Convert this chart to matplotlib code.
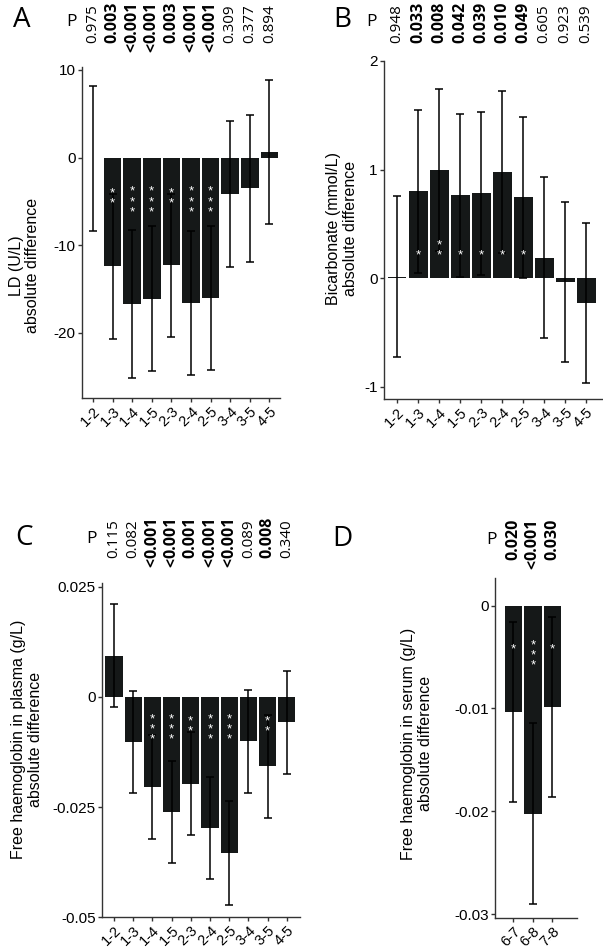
import matplotlib
matplotlib.use('Agg')
import matplotlib.pyplot as plt
from matplotlib.transforms import blended_transform_factory

plt.rcParams['font.family'] = ['Liberation Sans', 'DejaVu Sans']
plt.rcParams['axes.unicode_minus'] = False

# A: LD
ld_pairs = ['1-2', '1-3', '1-4', '1-5', '2-3', '2-4', '2-5', '3-4', '3-5', '4-5']
ld_diff = [-0.1, -12.4, -16.7, -16.1, -12.3, -16.6, -16.0, -4.15, -3.5, 0.6]
ld_err = [8.3, 8.3, 8.4, 8.3, 8.2, 8.2, 8.2, 8.3, 8.4, 8.2]
ld_p = ['0.975', '0.003', '<0.001', '<0.001', '0.003', '<0.001', '<0.001', '0.309', '0.377', '0.894']
ld_stars = ['', '**', '***', '***', '**', '***', '***', '', '', '']
ld_yticks = [-20, -10, 0, 10]
ld_yticklabels = ['-20', '-10', '0', '10']

# B: bicarbonate
bic_pairs = ld_pairs
bic_diff = [0.015, 0.80, 1.0, 0.765, 0.78, 0.975, 0.745, 0.19, -0.035, -0.23]
bic_err = [0.745, 0.75, 0.745, 0.75, 0.75, 0.745, 0.74, 0.74, 0.738, 0.738]
bic_p = ['0.948', '0.033', '0.008', '0.042', '0.039', '0.010', '0.049', '0.605', '0.923', '0.539']
bic_stars = ['', '*', '**', '*', '*', '*', '*', '', '', '']
bic_yticks = [-1, 0, 1, 2]
bic_yticklabels = ['-1', '0', '1', '2']

# C: free haemoglobin in plasma
pl_pairs = ld_pairs
pl_diff = [0.0093, -0.01025, -0.0204, -0.0261, -0.0197, -0.0298, -0.0354, -0.0101, -0.0158, -0.00575]
pl_err = [0.0117, 0.01165, 0.0118, 0.0116, 0.0117, 0.0116, 0.0117, 0.01165, 0.0116, 0.01165]
pl_p = ['0.115', '0.082', '<0.001', '<0.001', '0.001', '<0.001', '<0.001', '0.089', '0.008', '0.340']
pl_stars = ['', '', '***', '***', '**', '***', '***', '', '**', '']
pl_yticks = [-0.05, -0.025, 0, 0.025]
pl_yticklabels = ['-0.05', '-0.025', '0', '0.025']

# D: free haemoglobin in serum
se_pairs = ['6-7', '6-8', '7-8']
se_diff = [-0.01036, -0.02023, -0.00987]
se_err = [0.00876, 0.00877, 0.00877]
se_p = ['0.020', '<0.001', '0.030']
se_stars = ['*', '***', '*']
se_yticks = [-0.03, -0.02, -0.01, 0]
se_yticklabels = ['-0.03', '-0.02', '-0.01', '0']

W, H = 603, 951
fig = plt.figure(figsize=(W / 100, H / 100), dpi=100)

PFONT = ['Open Sans', 'DejaVu Sans']
BAR = '#151818'
SPINE = '#333333'
STAR_LS = 0.78    # line spacing of stacked stars
STAR_STEP = 6.0   # approx points between stacked stars


def panel(rect, pairs, diff, err, stars, pvals, yticks, yticklabels, ylim, xlim,
          ylabel, lab_xy, star_y, star_dir, p_y, P_xy, letter, letter_xy):
    l, t, r, b = rect
    ax = fig.add_axes([l / W, 1 - b / H, (r - l) / W, (b - t) / H])
    x = list(range(len(pairs)))
    ax.bar(x, diff, width=0.9, color=BAR, zorder=2)
    ax.errorbar(x, diff, yerr=err, fmt='none', ecolor='black', elinewidth=1.1,
                capsize=3, capthick=1.1, zorder=3)
    ax.set_xlim(*xlim)
    ax.set_ylim(*ylim)
    ax.set_xticks(x)
    ax.set_xticklabels(pairs, rotation=45, ha='right', va='top',
                       rotation_mode='anchor', fontsize=10.5)
    ax.set_yticks(yticks)
    ax.set_yticklabels(yticklabels, fontsize=11)
    ax.tick_params(length=3, width=1, color=SPINE, pad=1.5)
    for s in ['top', 'right']:
        ax.spines[s].set_visible(False)
    for s in ['left', 'bottom']:
        ax.spines[s].set_color(SPINE)
        ax.spines[s].set_linewidth(1.0)
    ax.set_ylabel(ylabel, fontsize=11.5, linespacing=1.15)
    ax.yaxis.set_label_coords(*lab_xy)

    # significance stars, one stacked text per bar (baseline = last line)
    for xi, st in zip(x, stars):
        if not st:
            continue
        n = len(st)
        dy = -5.5 if star_dir > 0 else -5.5 - (n - 1) * STAR_STEP
        ax.annotate('\n'.join(st), xy=(xi, star_y), xytext=(0, dy),
                    textcoords='offset points', ha='center', va='baseline',
                    ma='center', linespacing=STAR_LS, color='white',
                    fontsize=9.5, zorder=4)

    # p values along the top
    tr = blended_transform_factory(ax.transData, fig.transFigure)
    yy = 1 - p_y / H
    for xi, p in zip(x, pvals):
        bold = float(p.lstrip('<')) < 0.05
        kw = dict(rotation=90, ha='center', transform=tr, family=PFONT,
                  fontsize=11.5 if bold else 11,
                  fontweight='bold' if bold else 'normal')
        ax.text(xi, yy, p.lstrip('<'), va='bottom', **kw)
        if p.startswith('<'):
            ax.text(xi, yy, '<', va='top', **kw)
    fig.text(P_xy[0] / W, 1 - P_xy[1] / H, 'P', ha='center', va='center',
             family=PFONT, fontsize=12.5)
    fig.text(letter_xy[0] / W, 1 - letter_xy[1] / H, letter, ha='center',
             va='center', family=PFONT, fontsize=20)
    return ax


panel((82, 67, 280, 398), ld_pairs, ld_diff, ld_err, ld_stars, ld_p,
      ld_yticks, ld_yticklabels, (-27.43, 10.34), (-0.56, 9.54),
      'LD (U/L)\nabsolute difference', (-0.21, 0.40), -3.77, -1, 43,
      (72, 22), 'A', (22, 20))

panel((384, 61, 603, 399.3), bic_pairs, bic_diff, bic_err, bic_stars, bic_p,
      bic_yticks, bic_yticklabels, (-1.115, 1.994), (-0.62, 9.8),
      'Bicarbonate (mmol/L)\nabsolute difference', (-0.12, 0.506), 0.25, 1, 43,
      (372, 22), 'B', (342, 20))

panel((102, 583, 300, 917.3), pl_pairs, pl_diff, pl_err, pl_stars, pl_p,
      pl_yticks, pl_yticklabels, (-0.05, 0.0258), (-0.625, 9.69),
      'Free haemoglobin in plasma (g/L)\nabsolute difference', (-0.298, 0.533),
      -0.0049, -1, 558, (92, 539), 'C', (24, 538))

panel((495, 578, 576.7, 917.7), se_pairs, se_diff, se_err, se_stars, se_p,
      se_yticks, se_yticklabels, (-0.03036, 0.0027), (-0.94, 3.25),
      'Free haemoglobin in serum (g/L)\nabsolute difference', (-0.76, 0.513),
      -0.00376, -1, 560, (491, 540), 'D', (342, 539))

fig.savefig('out.png', dpi=100)
